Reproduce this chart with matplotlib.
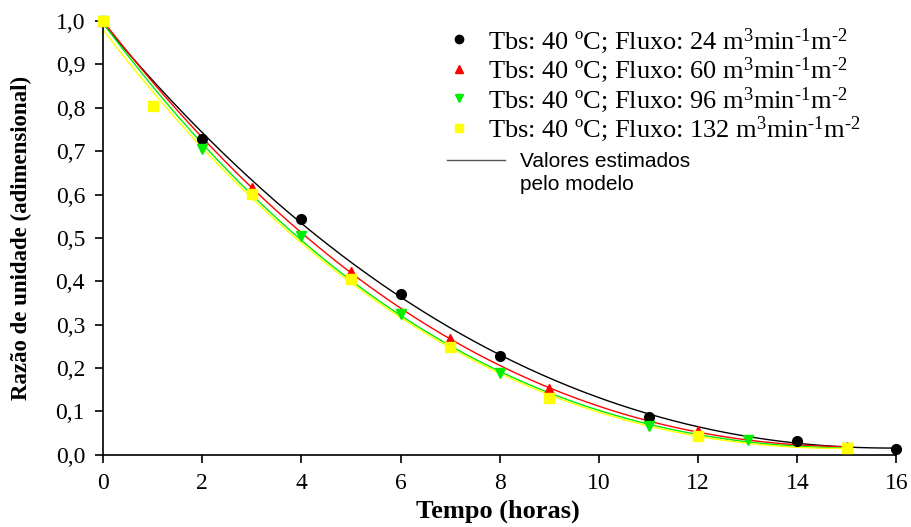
import numpy as np
import matplotlib
matplotlib.use('Agg')
import matplotlib.pyplot as plt
from matplotlib.lines import Line2D
from matplotlib.ticker import FuncFormatter

plt.rcParams['font.family'] = ['Liberation Serif', 'DejaVu Serif']
plt.rcParams['mathtext.fontset'] = 'custom'
plt.rcParams['mathtext.rm'] = 'Liberation Serif'
plt.rcParams['mathtext.it'] = 'Liberation Serif'

# tempo (h) e razao de umidade para cada fluxo de ar
t24 = [0, 2, 4, 6, 8, 11, 14, 16]
rx24 = [1.0, 0.727, 0.543, 0.370, 0.228, 0.088, 0.032, 0.014]
t60 = [0, 3, 5, 7, 9, 12, 15]
rx60 = [1.0, 0.615, 0.422, 0.267, 0.151, 0.055, 0.018]
t96 = [0, 2, 4, 6, 8, 11, 13, 15]
rx96 = [1.0, 0.704, 0.504, 0.325, 0.189, 0.067, 0.033, 0.015]
t132 = [0, 1, 3, 5, 7, 9, 12, 15]
rx132 = [1.0, 0.804, 0.601, 0.405, 0.249, 0.130, 0.044, 0.015]

fluxos = ['24', '60', '96', '132']
series = [(t24, rx24), (t60, rx60), (t96, rx96), (t132, rx132)]
cores = ['black', 'red', '#00ee00', '#ffff00']
marcadores = ['o', '^', 'v', 's']

fig = plt.figure(figsize=(9.12, 5.27), dpi=100)
ax = fig.add_axes([0.113, 0.137, 0.870, 0.823])

handles = []
for (t, rx), c, m, f in zip(series, cores, marcadores, fluxos):
    t = np.array(t, dtype=float)
    rx = np.array(rx)
    # valores estimados: polinomio de 3o grau ajustado aos dados
    coef = np.polyfit(t, rx, 3)
    tt = np.linspace(0, t.max(), 300)
    ax.plot(tt, np.polyval(coef, tt), color=c, lw=1.0, zorder=2)
    ax.plot(t, rx, m, color=c, ms=7, mec=c, ls='none', clip_on=False, zorder=3)
    lab = r'Tbs: 40 ºC; Fluxo: %s m$^{3}$min$^{‐1}$m$^{‐2}$' % f
    handles.append(Line2D([], [], marker=m, color=c, mec=c, ls='none', ms=6, label=lab))

leg1 = fig.legend(handles=handles, loc='upper left', bbox_to_anchor=(446 / 912, 1 - 26 / 527),
                  frameon=False, fontsize=19, handlelength=1.0, labelspacing=0.0,
                  handletextpad=0.6, borderpad=0, borderaxespad=0)
linha = Line2D([], [], color='#555555', lw=1, label='Valores estimados')
vazio = Line2D([], [], color='none', lw=0, label='pelo modelo')
leg2 = fig.legend(handles=[linha, vazio], loc='upper left', bbox_to_anchor=(447 / 912, 1 - 152 / 527),
                  frameon=False, handlelength=2.8, handletextpad=0.7, borderpad=0,
                  borderaxespad=0, prop={'family': 'Liberation Sans', 'size': 15},
                  labelspacing=0.2)

ax.set_xlim(0, 16)
ax.set_ylim(0, 1.0)
ax.set_xticks(np.arange(0, 17, 2))
ax.set_yticks(np.arange(0, 1.01, 0.1))
ax.yaxis.set_major_formatter(FuncFormatter(lambda v, p: ('%.1f' % v).replace('.', ',')))
ax.spines['top'].set_visible(False)
ax.spines['right'].set_visible(False)
for s in ['left', 'bottom']:
    ax.spines[s].set_linewidth(1.2)
ax.tick_params(direction='out', length=6, width=1.2, labelsize=17, pad=7)

ax.set_xlabel('Tempo (horas)', fontsize=19, fontweight='bold')
ax.xaxis.set_label_coords(0.497, -0.103)
ax.set_ylabel('Razão de unidade (adimensional)', fontsize=16.5, fontweight='bold')
ax.yaxis.set_label_coords(-0.09, 0.5)

fig.savefig('out.png', dpi=100)
